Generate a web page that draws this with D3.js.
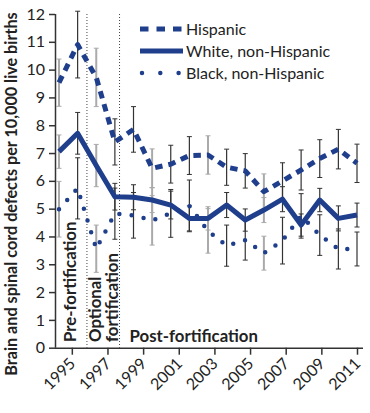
<!DOCTYPE html>
<html lang="en">
  <head>
    <meta charset="UTF-8" />
    <title>Brain and spinal cord defects</title>
    <script src="https://d3js.org/d3.v7.min.js"></script>
    <style>
      body {
        margin: 0;
        background: #fff;
      }
      svg text {
        font-family: Lato, "Open Sans", sans-serif;
        fill: #222;
      }
    </style>
  </head>
  <body>
    <svg id="chart" width="370" height="413"></svg>
    <script>
      // data
      var years = d3.range(1995, 2012);
      var seriesNames = ["Hispanic", "White, non-Hispanic", "Black, non-Hispanic"];
      var hispanic = [9.53, 10.9, 9.72, 7.4, 7.85, 6.45, 6.6, 6.91, 6.93, 6.49, 6.36, 5.61, 6.0, 6.39, 6.8, 7.14, 6.63];
      var hispanicErr = [0.85, 1.2, 1.05, 0.83, 0.82, 0.7, 0.68, 0.68, 0.69, 0.65, 0.62, 0.64, 0.65, 0.72, 0.68, 0.71, 0.69];
      var white = [7.05, 7.71, 6.55, 5.43, 5.41, 5.31, 5.13, 4.65, 4.65, 5.13, 4.59, 4.95, 5.34, 4.41, 5.31, 4.65, 4.77];
      var whiteErr = [0.6, 0.75, 0.76, 0.48, 0.45, 0.45, 0.5, 0.45, 0.42, 0.45, 0.4, 0.45, 0.45, 0.4, 0.42, 0.45, 0.43];
      var black = [4.98, 5.73, 3.56, 4.82, 4.76, 4.58, 4.83, 5.1, 4.2, 3.67, 3.87, 3.4, 3.85, 4.74, 4.05, 3.55, 3.55];
      var blackErr = [1.0, 1.1, 0.85, 0.92, 0.82, 0.89, 0.86, 0.93, 0.8, 0.74, 0.72, 0.61, 0.84, 0.8, 0.73, 0.72, 0.61];
      var greyBarYears = [1995, 1997, 2000, 2003, 2006];
      var tickYears = [1995, 1997, 1999, 2001, 2003, 2005, 2007, 2009, 2011];
      var yTicks = d3.range(0, 13);
      var periodBreaks = [1996.5, 1998.25];

      var svg = d3.select("#chart");
      var blue = "#1f3f8c";

      var y = d3.scaleLinear().domain([0, 12]).range([347.7, 14]);
      // data points and tick labels don't line up in the original, so two scales
      var x = d3.scaleLinear().domain([1995, 2011]).range([59, 357]);
      var xAxisScale = d3.scaleLinear().domain([1994, 2011]).range([54, 357]);

      // period separators
      svg
        .selectAll(".sep")
        .data(periodBreaks)
        .enter()
        .append("line")
        .attr("x1", (d) => x(d))
        .attr("x2", (d) => x(d))
        .attr("y1", y(12))
        .attr("y2", y(0))
        .attr("stroke", "#444")
        .attr("stroke-width", 1)
        .attr("stroke-dasharray", "1,2");

      // error bars
      var all = [
        { name: seriesNames[0], vals: hispanic, err: hispanicErr, dash: "7.5,6", width: 5 },
        { name: seriesNames[1], vals: white, err: whiteErr, dash: null, width: 5 },
        { name: seriesNames[2], vals: black, err: blackErr, dash: "0,12.3", width: 4.5 },
      ];

      var bars = [];
      all.forEach(function (s) {
        years.forEach(function (yr, i) {
          bars.push({ year: yr, lo: s.vals[i] - s.err[i], hi: s.vals[i] + s.err[i] });
        });
      });
      var barColor = (d) => (greyBarYears.indexOf(d.year) >= 0 ? "#aaa" : "#333");

      var eb = svg.append("g").selectAll("g").data(bars).enter().append("g");
      eb.append("line")
        .attr("x1", (d) => x(d.year))
        .attr("x2", (d) => x(d.year))
        .attr("y1", (d) => y(d.hi))
        .attr("y2", (d) => y(d.lo))
        .attr("stroke", barColor)
        .attr("stroke-width", (d) => (greyBarYears.indexOf(d.year) >= 0 ? 2 : 1.2));
      ["hi", "lo"].forEach(function (k) {
        eb.append("line")
          .attr("x1", (d) => x(d.year) - 2.5)
          .attr("x2", (d) => x(d.year) + 2.5)
          .attr("y1", (d) => y(d[k]))
          .attr("y2", (d) => y(d[k]))
          .attr("stroke", barColor)
          .attr("stroke-width", 1);
      });

      // series lines
      var line = d3
        .line()
        .x((d) => x(d[0]))
        .y((d) => y(d[1]));

      all.forEach(function (s) {
        svg
          .append("path")
          .datum(years.map((yr, i) => [yr, s.vals[i]]))
          .attr("d", line)
          .attr("fill", "none")
          .attr("stroke", blue)
          .attr("stroke-width", s.width)
          .attr("stroke-linejoin", "round")
          .attr("stroke-linecap", s.dash && s.dash[0] == "0" ? "round" : "butt")
          .attr("stroke-dasharray", s.dash);
      });

      // axes
      var yAxis = svg
        .append("g")
        .attr("transform", "translate(55,0)")
        .call(d3.axisLeft(y).tickValues(yTicks).tickSize(6).tickPadding(4));
      var xAxis = svg
        .append("g")
        .attr("transform", "translate(0," + y(0) + ")")
        .call(d3.axisBottom(xAxisScale).tickValues(tickYears).tickFormat(d3.format("d")).tickSize(7));

      [yAxis, xAxis].forEach(function (a) {
        a.select(".domain").attr("stroke", "#333").attr("stroke-width", 1.5);
        a.selectAll(".tick line").attr("stroke", "#333").attr("stroke-width", 1.5);
        a.selectAll("text").style("font-size", "16px").attr("fill", "#222");
      });
      xAxis.select(".domain").attr("d", "M55,0.5H363");
      yAxis.select(".domain").attr("d", "M0.5," + y(12) + "V" + y(0));
      xAxis
        .selectAll("text")
        .attr("text-anchor", "end")
        .attr("dy", null)
        .attr("y", null)
        .attr("transform", "translate(4,17) rotate(-45)");

      // y label
      svg
        .append("text")
        .attr("transform", "translate(17," + 194 + ") rotate(-90)")
        .attr("text-anchor", "middle")
        .style("font-size", "16.2px")
        .style("font-weight", "bold")
        .text("Brain and spinal cord defects per 10,000 live births");

      // period labels
      var periodG = svg.append("g").style("font-weight", "bold").style("font-size", "16.8px");
      [
        { lines: ["Pre-fortification"], x: 75.5 },
        { lines: ["Optional", "fortification"], x: 101 },
      ].forEach(function (p) {
        p.lines.forEach(function (t, j) {
          periodG
            .append("text")
            .attr("transform", "translate(" + (p.x + j * 16.5) + ",342) rotate(-90)")
            .text(t);
        });
      });
      periodG.append("text").attr("x", 129.5).attr("y", 342).text("Post-fortification");

      // legend
      var legend = svg.append("g");
      var legendDash = ["8.5,8", null, "0,18.3"];
      seriesNames.forEach(function (n, i) {
        var ly = 29 + i * 22;
        legend
          .append("line")
          .attr("x1", i == 2 ? 142 : 140)
          .attr("x2", 183)
          .attr("y1", ly)
          .attr("y2", ly)
          .attr("stroke", blue)
          .attr("stroke-width", all[i].width)
          .attr("stroke-linecap", i == 2 ? "round" : "butt")
          .attr("stroke-dasharray", legendDash[i]);
        legend
          .append("text")
          .attr("x", 186)
          .attr("y", ly + 6)
          .style("font-size", "16px")
          .text(n);
      });
    </script>
  </body>
</html>
